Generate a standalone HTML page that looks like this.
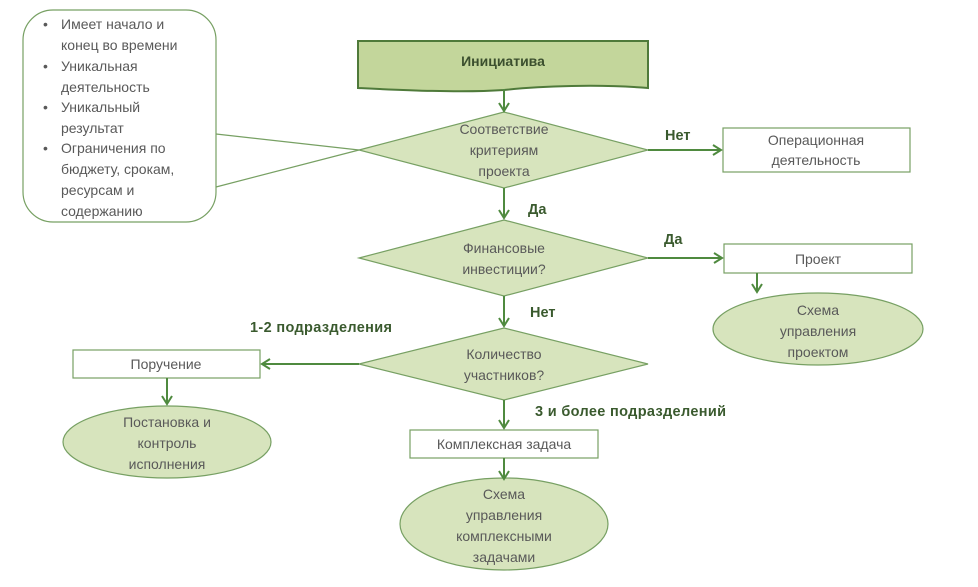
<!DOCTYPE html>
<html><head><meta charset="utf-8"><style>
html,body{margin:0;padding:0;background:#fff;}
svg{display:block;}
text{font-family:"Liberation Sans",sans-serif;font-size:14px;fill:#595959;}
.b{font-weight:bold;fill:#3a5a2e;font-size:14.5px;}
</style></head><body>
<svg width="978" height="587" viewBox="0 0 978 587" xmlns="http://www.w3.org/2000/svg">
<defs><marker id="a" markerWidth="12" markerHeight="12" refX="9" refY="6" orient="auto" markerUnits="userSpaceOnUse"><path d="M1,1 L9,6 L1,11" fill="none" stroke="#4f8a3f" stroke-width="2"/></marker></defs>
<g stroke="#77a063" stroke-width="1.2">
<rect x="23" y="10" width="193" height="212" rx="30" fill="#fff"/>
<line x1="216" y1="134" x2="359" y2="150"/>
<line x1="216" y1="187" x2="359" y2="150"/>
</g>
<g text-anchor="start">
<text x="43" y="29">•</text><text x="61" y="29">Имеет начало и</text><text x="61" y="50">конец во времени</text>
<text x="43" y="71">•</text><text x="61" y="71">Уникальная</text><text x="61" y="92">деятельность</text>
<text x="43" y="112">•</text><text x="61" y="112">Уникальный</text><text x="61" y="133">результат</text>
<text x="43" y="153">•</text><text x="61" y="153">Ограничения по</text><text x="61" y="174">бюджету, срокам,</text>
<text x="61" y="195">ресурсам и</text><text x="61" y="216">содержанию</text>
</g>
<path d="M358,41 H648 V88 C600,84 540,86 504,90 C460,93 400,90 358,88 Z" fill="#c3d69b" stroke="#4f7a3a" stroke-width="2"/>
<text x="503" y="66" text-anchor="middle" style="font-weight:bold;fill:#3b4f2e;font-size:14px">Инициатива</text>
<g fill="#d7e4bd" stroke="#77a063" stroke-width="1.2">
<polygon points="359,150 504,112 648,150 504,188"/>
<polygon points="359,258 504,220 648,258 504,296"/>
<polygon points="359,364 504,328 648,364 504,400"/>
<ellipse cx="818" cy="329" rx="105" ry="36"/>
<ellipse cx="167" cy="442" rx="104" ry="36"/>
<ellipse cx="504" cy="524" rx="104" ry="46"/>
</g>
<g fill="#fff" stroke="#77a063" stroke-width="1.2">
<rect x="723" y="128" width="187" height="44"/>
<rect x="724" y="244" width="188" height="29"/>
<rect x="73" y="350" width="187" height="28"/>
<rect x="410" y="430" width="188" height="28"/>
</g>
<g stroke="#4f8a3f" stroke-width="2" marker-end="url(#a)">
<line x1="504" y1="89" x2="504" y2="111"/>
<line x1="648" y1="150" x2="721" y2="150"/>
<line x1="504" y1="188" x2="504" y2="218"/>
<line x1="648" y1="258" x2="722" y2="258"/>
<line x1="757" y1="273" x2="757" y2="292"/>
<line x1="504" y1="296" x2="504" y2="326"/>
<line x1="359" y1="364" x2="262" y2="364"/>
<line x1="167" y1="378" x2="167" y2="404"/>
<line x1="504" y1="400" x2="504" y2="428"/>
<line x1="504" y1="458" x2="504" y2="479"/>
</g>
<g text-anchor="middle">
<text x="504" y="134">Соответствие</text><text x="504" y="155">критериям</text><text x="504" y="176">проекта</text>
<text x="816" y="145">Операционная</text><text x="816" y="165">деятельность</text>
<text x="504" y="253">Финансовые</text><text x="504" y="274">инвестиции?</text>
<text x="818" y="264">Проект</text>
<text x="818" y="315">Схема</text><text x="818" y="336">управления</text><text x="818" y="357">проектом</text>
<text x="504" y="359">Количество</text><text x="504" y="380">участников?</text>
<text x="166" y="369">Поручение</text>
<text x="167" y="427">Постановка и</text><text x="167" y="448">контроль</text><text x="167" y="469">исполнения</text>
<text x="504" y="449">Комплексная задача</text>
<text x="504" y="499">Схема</text><text x="504" y="520">управления</text><text x="504" y="541">комплексными</text><text x="504" y="562">задачами</text>
</g>
<text class="b" x="665" y="140">Нет</text>
<text class="b" x="528" y="214">Да</text>
<text class="b" x="664" y="244">Да</text>
<text class="b" x="530" y="317">Нет</text>
<text class="b" x="250" y="332" textLength="142" lengthAdjust="spacing">1-2 подразделения</text>
<text class="b" x="535" y="416" textLength="191" lengthAdjust="spacing">3 и более подразделений</text>
</svg>
</body></html>
